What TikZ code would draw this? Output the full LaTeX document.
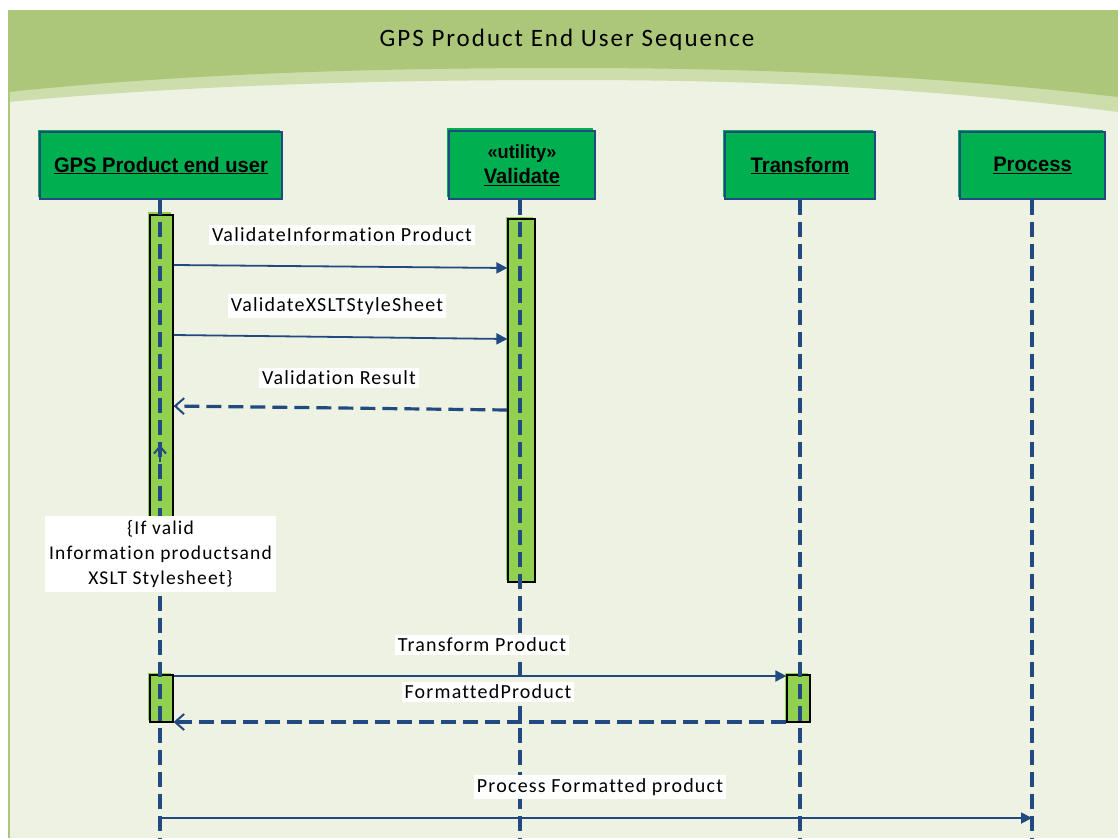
\documentclass[tikz,border=0pt]{standalone}
\usepackage{fontspec}
\setmainfont{Carlito}
\newfontfamily\lblfont{Carlito}[LetterSpace=6,Ligatures={NoCommon}]
\newfontfamily\titlefont{Carlito}[LetterSpace=8,Ligatures={NoCommon}]
\newfontfamily\boxfont{Liberation Sans}[FakeStretch=0.96]
\usetikzlibrary{arrows.meta}
\definecolor{hdr}{RGB}{172,199,122}
\definecolor{band}{RGB}{205,222,172}
\definecolor{panel}{RGB}{237,242,226}
\definecolor{navy}{RGB}{33,74,128}
\definecolor{boxg}{RGB}{0,176,80}
\definecolor{actg}{RGB}{146,208,80}
\begin{document}
\begin{tikzpicture}[x=1pt,y=-1pt,
  head/.style={draw=navy, fill=boxg, line width=1.3pt, inner sep=0pt, align=center,
    font=\boxfont\bfseries\fontsize{21}{25}\selectfont, minimum height=67pt},
  act/.style={draw=black, fill=actg, line width=1.2pt, inner sep=0pt},
  life/.style={draw=navy, line width=3.2pt, dash pattern=on 15pt off 7pt},
  msg/.style={draw=navy, line width=1.8pt, -{Triangle[length=11pt,width=11pt]}},
  ret/.style={draw=navy, line width=3.2pt, dash pattern=on 15pt off 7pt,
    -{Straight Barb[length=9pt,width=16pt,line width=2pt]}},
  lbl/.style={fill=white, inner sep=3pt, font=\lblfont\fontsize{20}{23}\selectfont},
  notebox/.style={fill=white, inner sep=0pt, align=center,
    font=\lblfont\fontsize{19.5}{25}\selectfont}]
\useasboundingbox (0,0) rectangle (1118,838);
\fill[white] (0,0) rectangle (1118,838);
\fill[panel] (8,10) rectangle (1118,838);
\fill[band] (8,10) -- (1118,10) -- (1118,112)
  .. controls (900,84) and (720,80) .. (565,80)
  .. controls (400,80) and (200,84) .. (8,102) -- cycle;
\fill[hdr] (8,10) -- (1118,10) -- (1118,97)
  .. controls (900,72) and (720,68) .. (565,68)
  .. controls (400,68) and (200,72) .. (8,92) -- cycle;
\draw[hdr, line width=1.5pt] (9,92) -- (9,838);
\node (title) at (567,40) {\titlefont\fontsize{25}{29}\selectfont GPS Product End User Sequence};

% lifeline heads
\fill[boxg] (38,130) rectangle (280,197);
\node[head, minimum width=242pt] (u) at (161,165.5) {\underline{GPS Product end user}};
\fill[boxg] (447,128) rectangle (593,197);
\node[head, minimum width=146pt, minimum height=68pt] (v) at (522,165) {\fontsize{19}{24}\selectfont «utility»\\\underline{Validate}};
\fill[boxg] (723,130) rectangle (873,197);
\node[head, minimum width=150pt] (t) at (800,165.5) {\underline{Transform}};
\fill[boxg] (958,130) rectangle (1103,197);
\node[head, minimum width=145pt] (p) at (1032.5,165.5) {\underline{Process}};

% activation bars
\fill[actg] (148,212) rectangle (171,560);
\node[act, minimum width=23pt, minimum height=345pt] (a1) at (161.5,387.5) {};
\fill[actg] (506,217) rectangle (533,580);
\node[act, minimum width=27pt, minimum height=363pt] (a2) at (521.5,400.5) {};
\fill[actg] (148,673) rectangle (171,720);
\node[act, minimum width=23pt, minimum height=47pt] (a3) at (161.5,698.5) {};
\fill[actg] (785,673) rectangle (808,720);
\node[act, minimum width=23pt, minimum height=47pt] (a4) at (798.5,698.5) {};

% lifelines
\coordinate (ue) at (160,838);
\coordinate (ve) at (520,838);
\coordinate (te) at (800,838);
\coordinate (pe) at (1032,838);
\draw[life] (u.south -| ue) -- (ue);
\draw[life] (v.south -| ve) -- (ve);
\draw[life] (t.south -| te) -- (te);
\draw[life] (p.south -| pe) -- (pe);

% messages
\draw[msg] (a1.east |- 0,265) -- (a2.west |- 0,268);
\node[lbl] (l1) at (342,235) {ValidateInformation Product};
\draw[msg] (a1.east |- 0,335) -- (a2.west |- 0,339);
\node[lbl] (l2) at (337,306) {ValidateXSLTStyleSheet};
\draw[ret] (a2.west |- 0,410) -- (a1.east |- 0,406);
\node[lbl] (l3) at (339,378) {Validation Result};
\draw[navy, line width=2pt, -{Straight Barb[length=7pt,width=12pt]}] (160,462) -- (160,445);

\node[notebox, minimum width=231pt, minimum height=76pt] (note) at (160.5,554)
  {\{If valid\\Information productsand\\XSLT Stylesheet\}};

\draw[msg] (a3.east |- 0,676) -- (a4.west |- 0,676);
\node[lbl] (l4) at (482,645) {Transform Product};
\draw[ret] (a4.west |- 0,722) -- (a3.east |- 0,722);
\node[lbl] (l5) at (488,692) {FormattedProduct};

\coordinate (m8s) at (160,818);
\coordinate (m8e) at (1032,818);
\draw[msg] (m8s) -- (m8e);
\node[lbl] (l6) at (600,787) {Process Formatted product};
\end{tikzpicture}
\end{document}
